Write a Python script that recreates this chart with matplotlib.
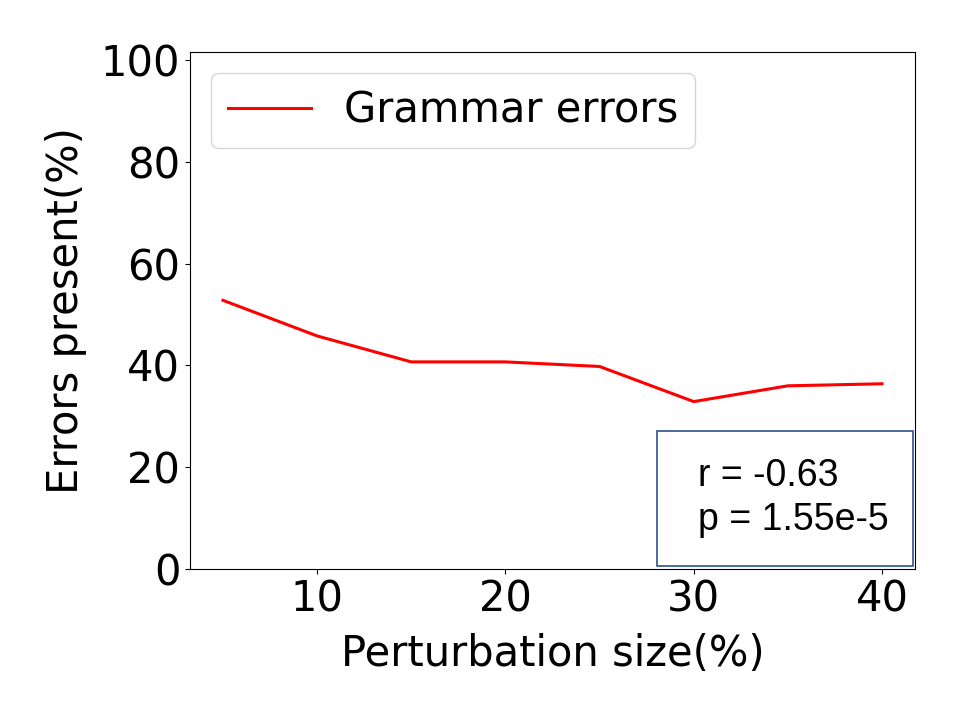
import matplotlib
matplotlib.use("Agg")
import matplotlib.pyplot as plt
from matplotlib.patches import Rectangle

# data
perturbation = [5, 10, 15, 20, 25, 30, 35, 40]
grammar_errors = [52.8, 45.8, 40.7, 40.7, 39.8, 32.9, 36.0, 36.4]
x_ticks = [10, 20, 30, 40]
y_ticks = [0, 20, 40, 60, 80, 100]
stats_lines = ["r = -0.63", "p = 1.55e-5"]

fig = plt.figure(figsize=(9.6, 7.2), dpi=100)
ax = fig.add_axes([190 / 960, 1 - 569 / 720, (915 - 190) / 960, (569 - 52) / 720])

ax.plot(perturbation, grammar_errors, color='red', linewidth=2.2, label='Grammar errors')
ax.set_ylim(0, 101.6)
ax.set_xticks(x_ticks)
ax.set_yticks(y_ticks)
ax.tick_params(axis='both', labelsize=30)
ax.set_xlabel('Perturbation size(%)', fontsize=30, labelpad=9)
ax.set_ylabel('Errors present(%)', fontsize=30, labelpad=10)
ax.legend(loc='upper left', fontsize=30)

# stats box pasted over the lower right corner
box = Rectangle((657 / 960, 1 - 566 / 720), (913 - 657) / 960, (566 - 431) / 720,
                transform=fig.transFigure, facecolor='white', edgecolor='#2F528F',
                linewidth=1.2, zorder=5)
fig.patches.append(box)
for i, line in enumerate(stats_lines):
    fig.text(698 / 960, 1 - (476 + 44 * i) / 720, line, fontsize=27,
             family='Liberation Sans', ha='left', va='center', zorder=6)

fig.savefig('out.png', dpi=100)
